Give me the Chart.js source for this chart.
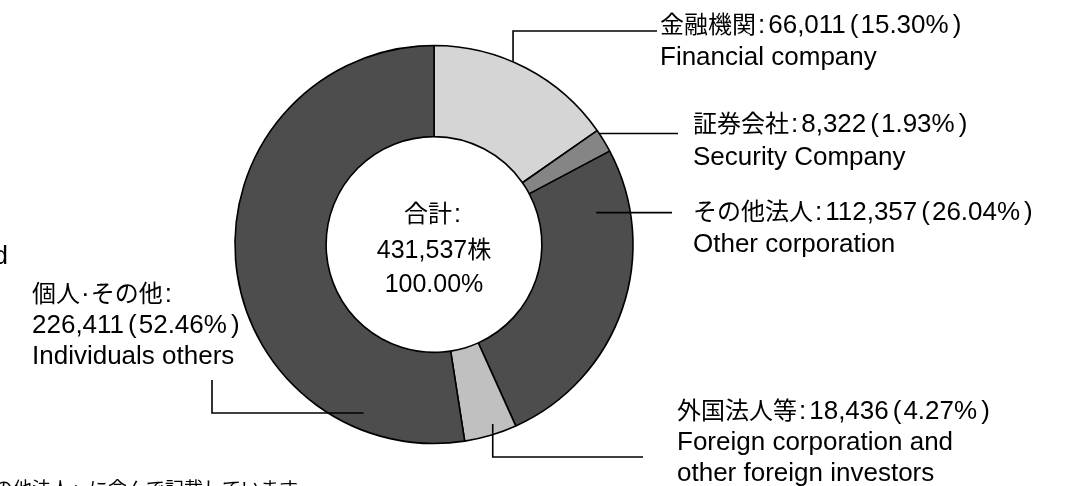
<!DOCTYPE html>
<html><head><meta charset="utf-8">
<script src="https://cdn.jsdelivr.net/npm/chart.js@4.4.1/dist/chart.umd.min.js"></script>
<style>html,body{margin:0;padding:0;background:#fff;overflow:hidden}#wrap{width:1066px;height:486px;position:relative}</style>
</head><body><div id="wrap"><canvas id="c" width="1066" height="486"></canvas></div>
<script>
// ---- data ----
const categoriesJa = ['金融機関', '証券会社', 'その他法人', '外国法人等', '個人·その他'];
const categoriesEn = [['Financial company'], ['Security Company'], ['Other corporation'], ['Foreign corporation and', 'other foreign investors'], ['Individuals others']];
const shares = [66011, 8322, 112357, 18436, 226411];
const percents = ['15.30%', '1.93%', '26.04%', '4.27%', '52.46%'];
const totalPercent = '100.00%';
const totalCaption = '合計:';
const shareUnit = '株';
const sliceColors = ['#d5d5d5', '#858585', '#4d4d4d', '#c0c0c0', '#4d4d4d'];
const edgeTexts = ['d', 'の他法人」に含んで記載しています'];

// ---- text helpers ----
const LATIN = '"Liberation Sans", Arial, sans-serif';
const CJK = '"Noto Sans CJK JP", "Noto Sans CJK SC", sans-serif';
function isCJK(ch) { return /[\u3000-\u30ff\u3400-\u9fff\uff00-\uffef]/.test(ch); }
const SPACING = {'(': [4, 2], ')': [4, 0], ':': [2, 3], '·': [1, 1]};
function splitRuns(str) {
  const out = [];
  for (const ch of str) {
    const c = isCJK(ch);
    if (SPACING[ch]) { out.push({t: ch, cjk: false, pre: SPACING[ch][0], post: SPACING[ch][1], single: true}); continue; }
    const last = out[out.length - 1];
    if (last && !last.single && last.cjk === c) last.t += ch;
    else out.push({t: ch, cjk: c, pre: 0, post: 0});
  }
  return out;
}
function drawMixed(ctx, str, x, yc, align, lat, cjk) {
  const rs = splitRuns(str);
  let w = 0;
  for (const r of rs) {
    ctx.font = (r.cjk ? cjk + 'px ' + CJK : lat + 'px ' + LATIN);
    r.w = ctx.measureText(r.t).width;
    w += r.pre + r.w + r.post;
  }
  let cx = align === 'center' ? x - w / 2 : align === 'right' ? x - w : x;
  const base = yc + lat * 0.358;
  ctx.textAlign = 'left';
  ctx.textBaseline = 'alphabetic';
  ctx.fillStyle = '#000';
  for (const r of rs) {
    ctx.font = (r.cjk ? cjk + 'px ' + CJK : lat + 'px ' + LATIN);
    cx += r.pre;
    ctx.fillText(r.t, cx, base);
    cx += r.w + r.post;
  }
}
const fmt = n => n.toLocaleString('en-US');

// ---- layout (positions only) ----
const LAT = 26, CJKS = 24;
const labelLayout = [
  {x: 660, ys: [24, 56], align: 'left', frac: 0.425, rf: 1.0, path: a => [[a.x, 31], [657, 31]]},
  {x: 693, ys: [123, 156], align: 'left', frac: 0.15, rf: 1.0, path: a => [[678, a.y]]},
  {x: 693, ys: [211, 243], align: 'left', frac: 0.18, rf: 0.63, path: a => [[672, a.y]]},
  {x: 677, ys: [410, 441, 472], align: 'left', frac: 0.40, rf: 0.89, path: a => [[a.x, 457], [643, 457]]},
  {x: 32, ys: [293, 324, 355], align: 'left', frac: 0.167, rf: 0.82, path: a => [[212, a.y], [212, 380]], split: true}
];

const annotPlugin = {
  id: 'annot',
  afterDatasetsDraw(chart) {
    const ctx = chart.ctx;
    const meta = chart.getDatasetMeta(0);
    ctx.save();
    ctx.strokeStyle = '#000';
    ctx.lineWidth = 1.6;
    ctx.lineJoin = 'miter';
    meta.data.forEach((arc, i) => {
      const p = arc.getProps(['x', 'y', 'startAngle', 'endAngle', 'innerRadius', 'outerRadius'], true);
      const L = labelLayout[i];
      const ang = p.startAngle + (p.endAngle - p.startAngle) * L.frac;
      const r = p.innerRadius + (p.outerRadius - p.innerRadius) * L.rf;
      const a = {x: p.x + r * Math.cos(ang), y: p.y + r * Math.sin(ang)};
      ctx.beginPath();
      ctx.moveTo(a.x, a.y);
      L.path(a).forEach(pt => ctx.lineTo(pt[0], pt[1]));
      ctx.stroke();
      const valTxt = fmt(shares[i]) + '(' + percents[i] + ')';
      const lines = L.split
        ? [categoriesJa[i] + ':', valTxt].concat(categoriesEn[i])
        : [categoriesJa[i] + ':' + valTxt].concat(categoriesEn[i]);
      lines.forEach((ln, k) => drawMixed(ctx, ln, L.x, L.ys[k], L.align, LAT, CJKS));
    });
    const total = shares.reduce((s, v) => s + v, 0);
    const c0 = meta.data[0];
    const cx = c0.x, cy = c0.y;
    drawMixed(ctx, totalCaption, cx, cy - 31, 'center', 25, 24);
    drawMixed(ctx, fmt(total) + shareUnit, cx, cy + 4.5, 'center', 25, 24);
    drawMixed(ctx, totalPercent, cx, cy + 38.5, 'center', 25, 24);
    drawMixed(ctx, edgeTexts[0], 8, 255, 'right', LAT, CJKS);
    drawMixed(ctx, edgeTexts[1], -6, 487, 'left', LAT, 19);
    ctx.restore();
  }
};

new Chart(document.getElementById('c'), {
  type: 'doughnut',
  data: {
    labels: categoriesJa,
    datasets: [{
      data: shares,
      backgroundColor: sliceColors,
      borderColor: '#000',
      borderWidth: 1.6,
      borderAlign: 'center'
    }]
  },
  options: {
    responsive: false,
    animation: false,
    radius: 199,
    cutout: 108,
    layout: {padding: {left: 234, right: 432, top: 44, bottom: 41}},
    plugins: {legend: {display: false}, tooltip: {enabled: false}, title: {display: false}},
    events: []
  },
  plugins: [annotPlugin]
});
</script>
</body></html>
